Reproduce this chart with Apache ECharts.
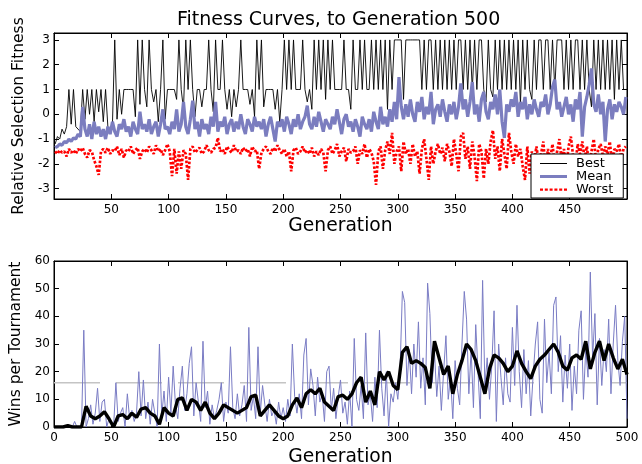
<!DOCTYPE html>
<html><head><meta charset="utf-8">
<script src="https://cdn.jsdelivr.net/npm/echarts@6/dist/echarts.min.js"></script>
<style>html,body{margin:0;padding:0;background:#fff}#c{width:642px;height:464px}</style>
</head><body><div id="c"></div>
<script>
// ---- Top panel: fitness per generation (sampled every 2 generations, from generation 1)
const fitnessStart = 1, fitnessStep = 2;
const best = [
 -1.2,-0.9,-1.0,-0.6,-0.8,-0.5,1,-0.4,1,-0.5,
 -0.6,-0.7,1,-0.2,1,0,1,-0.3,1,0.1,
 1,-0.3,1,-0.5,-0.6,-0.4,3,-0.2,1,0,
 1,1,1,1,1,-0.1,3,0.4,3,1,
 0.3,3,1,0.5,1,-0.3,1,3,-0.2,1,
 1,1,1,0.6,3,1,0.2,3,1,3,
 1,-0.1,1,1,0.3,1,1,3,1,0.1,
 3,1,1,3,1,0.2,1,-0.1,1,0.3,
 1,3,1,1,1,0.4,1,-0.1,3,1,
 3,0.3,1,1,1,1,0.2,1,-0.3,1,
 3,1,3,1,3,1,1,1,3,1,
 0.5,1,0.2,3,1,3,1,3,0.6,3,
 1,3,1,1,1,1,3,1,1,0.2,
 3,1,1,3,1,3,1,1,3,1,
 3,1,3,1,3,0.2,3,1,3,3,
 3,3,0.6,3,3,3,3,3,3,3,
 1,3,1,3,3,1,3,1,3,1,
 3,1,3,1,3,1,3,3,1,3,
 1,3,1,3,1,3,3,1,0.5,3,
 1,0.7,3,1,3,1,3,1,3,1,
 3,1,3,0.4,3,1,3,1,0.6,3,
 1,3,3,1,3,3,1,3,1,3,
 3,3,1,3,1,3,1,3,3,1,
 3,1,3,1,0.3,3,1,3,1,3,
 1,3,1,3,0.6,3,1,3,1,1
];
const mean = [
 -1.35,-1.3,-1.2,-1.25,-1.1,-1.15,-1.0,-1.1,-0.95,-1.0,
 -0.8,-0.9,0.3,-0.6,-0.9,-0.4,-1.0,-0.3,-0.8,-0.5,
 -0.9,-0.6,-1.0,-0.5,-0.8,-0.3,-0.7,-0.9,-0.4,-0.6,
 -0.2,-0.7,-0.5,-0.9,-0.3,-0.6,-0.8,0.1,-0.6,-0.4,
 -0.7,-0.2,-0.8,-0.5,-0.3,-0.9,-0.4,0.2,-0.6,-0.5,
 -0.8,-0.3,-0.6,0.2,-0.7,-0.4,0.5,-0.5,-0.8,-0.2,
 0.55,-0.6,-0.3,-0.9,-0.2,-0.6,-0.4,-0.8,-0.1,-0.5,
 0.5,-0.7,-0.3,-0.5,-0.1,-0.8,-0.4,-0.2,-0.7,-0.3,
 -0.6,0.0,-0.5,-0.8,-0.2,-0.4,-0.7,-0.1,-0.5,-0.3,
 -0.6,-0.2,-0.9,-0.4,-0.1,-0.6,-1.1,-0.3,-0.5,-0.2,
 -0.7,-0.1,-0.4,-0.8,-0.2,-0.5,0.0,-0.6,-0.3,-0.1,
 0.35,-0.4,-0.6,-0.1,-0.5,0.1,-0.3,-0.7,-0.2,-0.4,
 -0.6,-0.1,-0.4,0.2,-0.3,-0.8,-0.2,0.0,-0.5,-0.3,
 -0.7,-0.2,-0.5,-0.9,-0.1,-0.4,-0.6,-0.2,-0.7,0.1,
 -0.3,-0.6,0.3,-0.4,-0.1,-0.5,0.2,-0.3,0.5,-0.2,
 1.5,0.3,-0.2,0.4,-0.1,0.6,0.0,-0.3,0.5,0.1,
 0.7,-0.2,0.3,0.0,0.9,-0.4,0.2,0.4,-0.1,0.6,
 0.1,-0.3,0.4,0.0,0.5,-0.2,0.3,1.25,0.2,0.6,
 -0.1,0.5,1.3,0.0,0.4,-0.3,0.6,0.9,0.1,-0.2,
 0.5,0.2,0.8,0.0,1.0,-0.3,-0.95,0.4,0.1,0.6,
 0.3,0.9,-0.1,0.5,0.2,0.7,-0.2,0.4,0.0,0.6,
 0.2,-0.1,0.5,0.3,0.8,0.0,0.4,1.1,1.4,0.2,
 0.5,-0.1,0.3,0.7,0.0,0.4,-0.3,0.6,0.2,0.9,
 -0.9,0.3,0.7,1.2,1.85,0.4,0.1,0.8,0.0,0.5,
 -1.1,0.2,0.6,-0.2,0.4,0.1,0.5,0.3,0.0,0.7
];
const worst = [
 -1.5,-1.6,-1.45,-1.55,-1.5,-1.7,-1.4,-1.55,-1.45,-1.6,
 -1.4,-1.5,-1.35,-1.6,-1.75,-1.45,-1.5,-1.85,-2.1,-2.45,
 -1.5,-1.4,-1.55,-1.35,-1.6,-1.45,-1.5,-1.3,-1.65,-1.4,
 -1.75,-1.45,-1.5,-1.3,-1.6,-1.45,-1.35,-1.8,-1.5,-1.4,
 -1.55,-1.3,-1.45,-1.6,-1.25,-1.5,-1.4,-1.65,-1.45,-1.2,
 -1.5,-2.5,-1.4,-2.4,-1.5,-2.2,-1.45,-1.6,-2.65,-1.4,
 -1.3,-1.55,-1.45,-1.35,-1.6,-1.5,-1.25,-1.45,-1.55,-1.4,
 -1.35,-0.95,-1.5,-1.4,-1.6,-1.3,-1.45,-1.55,-1.25,-1.5,
 -1.45,-1.6,-1.35,-1.5,-1.4,-1.7,-1.3,-1.5,-1.45,-2.2,
 -1.55,-1.4,-1.3,-1.5,-1.6,-1.35,-1.5,-1.25,-1.45,-1.6,
 -1.4,-1.7,-1.5,-2.3,-1.45,-1.35,-1.6,-1.5,-1.3,-1.55,
 -1.45,-1.6,-1.35,-1.7,-1.5,-1.65,-1.4,-1.55,-2.3,-1.45,
 -1.3,-1.6,-1.45,-1.2,-1.7,-1.5,-1.35,-1.9,-1.4,-1.55,
 -1.5,-1.3,-2.0,-1.45,-1.6,-1.2,-1.75,-1.4,-1.55,-1.9,
 -2.85,-1.5,-1.3,-2.2,-1.45,-1.1,-1.6,-0.75,-2.0,-1.5,
 -1.3,-2.3,-1.1,-1.6,-1.4,-2.0,-1.2,-1.7,-1.5,-2.4,
 -1.4,-1.0,-1.8,-2.65,-1.3,-2.0,-1.5,-1.2,-1.6,-1.35,
 -1.9,-1.2,-1.5,-2.1,-1.0,-1.6,-2.3,-0.9,-0.75,-1.8,
 -1.3,-2.2,-1.1,-1.7,-2.7,-1.2,-1.5,-2.6,-1.4,-2.0,
 -1.1,-0.65,-1.8,-1.3,-2.3,-1.0,-1.6,-2.2,-0.75,-1.5,
 -2.0,-1.2,-1.7,-1.4,-2.1,-2.65,-1.3,-2.4,-1.5,-1.9,
 -1.3,-2.0,-1.6,-1.1,-2.3,-1.4,-1.8,-1.2,-2.1,-1.5,
 -1.0,-1.9,-1.4,-2.2,-1.3,-0.9,-1.7,-2.0,-1.2,-1.6,
 -1.1,-1.8,-1.3,-2.1,-1.5,-1.0,-1.9,-1.4,-1.2,-1.7,
 -1.3,-1.6,-1.1,-2.0,-1.4,-1.5,-1.2,-1.8,-1.4,-1.3
];
const fitnessTicks = [-3, -2, -1, 0, 1, 2, 3];
const legendNames = ['Best', 'Mean', 'Worst'];

// ---- Bottom panel: wins per tournament (every 2 generations from 0), smoothed curve (every 4 from 0)
const winsStart = 0, winsStep = 2;
const wins = [
 0,0,0,0,0,0,1,0,0,2,
 0,0,0,35,0,3,8,1,5,14,
 2,9,10,0,3,1,0,16,2,5,
 7,0,12,3,6,2,5,20,4,17,
 3,9,1,10,5,0,30,4,13,2,
 18,5,22,8,3,14,22,6,12,23,
 29,4,16,9,2,31,7,13,1,8,
 3,6,10,16,2,9,5,29,7,3,
 12,4,8,15,2,36,6,11,3,29,
 5,15,8,2,10,4,6,1,9,3,
 7,2,10,4,30,11,5,12,3,26,
 32,8,21,15,4,18,9,12,2,20,
 22,6,14,3,11,17,5,9,1,13,
 0,32,10,6,15,3,34,8,12,2,
 18,7,35,14,4,20,0,12,9,16,
 10,21,49,45,15,28,12,30,18,38,
 14,25,8,52,41,16,27,11,22,6,
 20,33,10,18,3,24,14,8,30,49,
 39,12,28,7,37,20,3,53,15,25,
 10,22,42,2,30,18,8,25,12,9,
 36,15,44,20,7,28,12,24,4,18,
 30,38,10,5,39,16,27,12,44,47,
 20,33,9,26,14,30,6,22,12,35,
 42,10,28,18,56,25,41,8,32,15,
 28,20,39,12,30,44,24,15,31,40,
 3
];
const smoothStart = 0, smoothStep = 4;
const winsSmooth = [
 0,0,0,0.5,0,0,0,7.5,4,3,
 4,5.5,3,0,4,4.5,3,5,3.5,6.5,
 7,5,4,1,7,5,4,10,10.5,6,
 10,9,6,9,5,3,5,8,7,6,
 5,6,7,11,11.5,4,6,8,6,4,
 3,4,8,10.5,7,12,13.5,12,14,9,
 7.5,6,11,11.5,10,12,16,18,9,13,
 8,20,17,20,15,13.5,27,29,23,24,
 23,21.5,14,31,25,19,22,12,19,24,
 30,28,24,18,12,21,26,25,23,20,
 22,27.5,23,20,17.5,22,24.5,26,28,30,
 27,22,20.5,25,26,24.5,31,21,27,31,
 24,30,25,21,24.5,19
];
const referenceLevel = 16;
const genRange = [0, 500];

const FONT = 'DejaVu Sans';
const pairs = (arr, start, step) => arr.map((v, i) => [start + i * step, v]);

// legend glyphs (27x12 box, corner anchors keep the box size)
const FRAME = 'M0,0L0,0ZM27,12L27,12Z';
const ICON_BEST = 'path://' + FRAME + 'M0,5.5h27v1h-27z';
const ICON_MEAN = 'path://' + FRAME + 'M0,4.5h27v3h-27z';
const ICON_WORST = 'path://' + FRAME + 'M0,4.9h3v2.4h-3zM4.8,4.9h3v2.4h-3zM9.6,4.9h3v2.4h-3zM14.4,4.9h3v2.4h-3zM19.2,4.9h3v2.4h-3zM24,4.9h3v2.4h-3z';

function xAx(grid, pos, showLabels, name, gap, hideEnds) {
  return {
    type: 'value', gridIndex: grid, position: pos, min: genRange[0], max: genRange[1], interval: 50,
    axisLine: { show: true, onZero: false, lineStyle: { color: '#000', width: 1 } },
    axisTick: { show: true, inside: true, length: 5, lineStyle: { color: '#000' } },
    axisLabel: { show: showLabels, margin: 5, fontFamily: FONT, fontSize: 12, color: '#000',
      formatter: v => (hideEnds && (v === 0 || v === 500)) ? '' : String(v) },
    splitLine: { show: false },
    name: name || '', nameLocation: 'middle', nameGap: gap || 0,
    nameTextStyle: { fontFamily: FONT, fontSize: 18.7, color: '#000' }
  };
}
function yAx(grid, pos, opts, name) {
  return Object.assign({
    type: 'value', gridIndex: grid, position: pos,
    axisLine: { show: true, onZero: false, lineStyle: { color: '#000', width: 1 } },
    splitLine: { show: false },
    name: name || '', nameLocation: 'middle', nameGap: 27,
    nameTextStyle: { fontFamily: FONT, fontSize: 15.5, color: '#000' }
  }, opts);
}

const chart = echarts.init(document.getElementById('c'), null, { renderer: 'canvas' });
chart.setOption({
  animation: false,
  backgroundColor: '#fff',
  title: {
    text: 'Fitness Curves, to Generation 500', left: 177, top: 11, padding: 0,
    textStyle: { fontFamily: FONT, fontSize: 19, fontWeight: 'normal', color: '#000' }
  },
  legend: {
    data: [
      { name: legendNames[0], icon: ICON_BEST },
      { name: legendNames[1], icon: ICON_MEAN },
      { name: legendNames[2], icon: ICON_WORST }
    ],
    orient: 'vertical', left: 531, top: 154, symbolKeepAspect: false,
    backgroundColor: '#fff', borderColor: '#000', borderWidth: 1, borderRadius: 0,
    padding: [3, 10, 2, 9], itemWidth: 27, itemHeight: 12, itemGap: 0,
    textStyle: { fontFamily: FONT, fontSize: 13, color: '#000', padding: [0, 0, 0, 4] }
  },
  grid: [
    { left: 54, top: 33, width: 573, height: 166, show: true, borderColor: '#000', borderWidth: 1, containLabel: false, outerBoundsMode: 'none' },
    { left: 54, top: 261, width: 573, height: 166, show: true, borderColor: '#000', borderWidth: 1, containLabel: false, outerBoundsMode: 'none' }
  ],
  xAxis: [
    xAx(0, 'bottom', true, 'Generation', 17, true),
    xAx(0, 'top', false, '', 0, true),
    xAx(1, 'bottom', true, 'Generation', 21, false),
    xAx(1, 'top', false, '', 0, false)
  ],
  yAxis: [
    yAx(0, 'left', { min: -3.42, max: 3.28,
      axisTick: { show: true, inside: true, length: 5, customValues: fitnessTicks, lineStyle: { color: '#000' } },
      axisLabel: { show: true, margin: 4, fontFamily: FONT, fontSize: 12, color: '#000', customValues: fitnessTicks } }, 'Relative Selection Fitness'),
    yAx(0, 'right', { min: -3.42, max: 3.28,
      axisTick: { show: true, inside: true, length: 5, customValues: fitnessTicks, lineStyle: { color: '#000' } },
      axisLabel: { show: false, customValues: fitnessTicks } }),
    yAx(1, 'left', { min: 0, max: 60, interval: 10,
      axisTick: { show: true, inside: true, length: 5, lineStyle: { color: '#000' } },
      axisLabel: { show: true, margin: 4, fontFamily: FONT, fontSize: 12, color: '#000' } }, 'Wins per Tournament'),
    yAx(1, 'right', { min: 0, max: 60, interval: 10,
      axisTick: { show: true, inside: true, length: 5, lineStyle: { color: '#000' } },
      axisLabel: { show: false } })
  ],
  series: [
    { name: legendNames[0], type: 'line', xAxisIndex: 0, yAxisIndex: 0, symbol: 'none',
      data: pairs(best, fitnessStart, fitnessStep), lineStyle: { color: '#000', width: 0.9 }, itemStyle: { color: '#000' } },
    { name: legendNames[1], type: 'line', xAxisIndex: 0, yAxisIndex: 0, symbol: 'none',
      data: pairs(mean, fitnessStart, fitnessStep), lineStyle: { color: '#7b7dbf', width: 3.2 }, itemStyle: { color: '#7b7dbf' } },
    { name: legendNames[2], type: 'line', xAxisIndex: 0, yAxisIndex: 0, symbol: 'none',
      data: pairs(worst, fitnessStart, fitnessStep), lineStyle: { color: '#ff0000', width: 2.7, type: [2.6, 1.8] }, itemStyle: { color: '#ff0000' } },
    { name: 'Reference', type: 'line', xAxisIndex: 2, yAxisIndex: 2, symbol: 'none',
      data: [[genRange[0], referenceLevel], [genRange[1], referenceLevel]],
      lineStyle: { color: '#c4c4c4', width: 1.5, type: [46, 16] } },
    { name: 'Wins', type: 'line', xAxisIndex: 2, yAxisIndex: 2, symbol: 'none',
      data: pairs(wins, winsStart, winsStep), lineStyle: { color: '#7a7cc4', width: 1 } },
    { name: 'Smoothed', type: 'line', xAxisIndex: 2, yAxisIndex: 2, symbol: 'none',
      data: pairs(winsSmooth, smoothStart, smoothStep), lineStyle: { color: '#000', width: 3.4 } }
  ]
});
</script></body></html>
